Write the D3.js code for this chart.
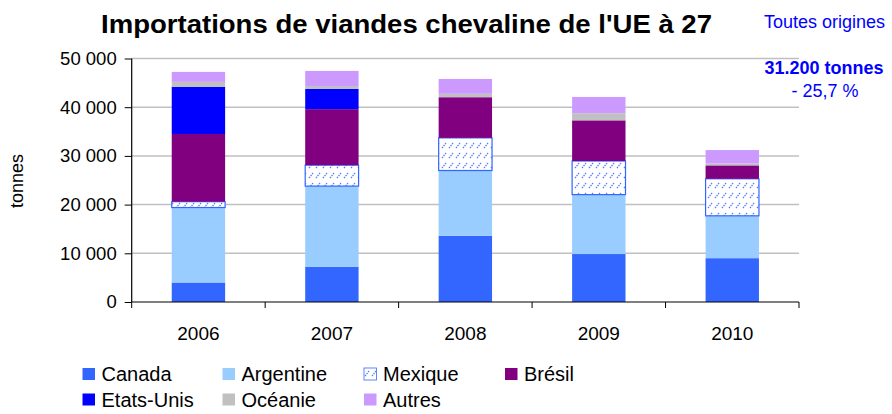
<!DOCTYPE html>
<html>
<head>
<meta charset="utf-8">
<script src="https://cdn.jsdelivr.net/npm/d3@7"></script>
<style>
  body { margin: 0; background: #fff; }
  svg { font-family: "Liberation Sans", Arial, sans-serif; }
  .axis path { display: none; }
</style>
</head>
<body>
<div id="chart"></div>
<script>
var years = ["2006", "2007", "2008", "2009", "2010"];
var series = ["Canada", "Argentine", "Mexique", "Brésil", "Etats-Unis", "Océanie", "Autres"];
var canada    = [4000, 7250, 13600, 9850, 9000];
var argentine = [15400, 16550, 13400, 12200, 8700];
var mexique   = [1200, 4300, 6700, 6900, 7600];
var bresil    = [13900, 11500, 8350, 8350, 2750];
var etatsUnis = [9700, 4150, 0, 0, 0];
var oceanie   = [1000, 600, 700, 1450, 400];
var autres    = [2050, 3100, 3050, 3350, 2750];
var yTicks = [0, 10000, 20000, 30000, 40000, 50000];
var colors = ["#3366ff", "#99ccff", "url(#hatch)", "#800080", "#0000ff", "#c0c0c0", "#cc99ff"];

var width = 892, height = 414;
var margin = {top: 58.5, right: 93, bottom: 112, left: 131.7};

var rows = years.map(function(y, i) {
  return {year: y, "Canada": canada[i], "Argentine": argentine[i], "Mexique": mexique[i],
    "Brésil": bresil[i], "Etats-Unis": etatsUnis[i], "Océanie": oceanie[i], "Autres": autres[i]};
});

var svg = d3.select("#chart").append("svg")
  .attr("width", width).attr("height", height);

var defs = svg.append("defs");
var pat = defs.append("pattern").attr("id", "hatch")
  .attr("patternUnits", "userSpaceOnUse").attr("width", 7).attr("height", 10);
pat.append("rect").attr("width", 7).attr("height", 10).attr("fill", "#fff");
pat.append("path").attr("d", "M1,8 L5,3")
  .attr("stroke", "#5a7dff").attr("stroke-width", 1.3).attr("stroke-dasharray", "1.5,1");

var x = d3.scaleBand().domain(years)
  .range([margin.left, width - margin.right]).paddingInner(0.6).paddingOuter(0.3);
var xb = d3.scaleBand().domain(years).range([margin.left, width - margin.right]);
var y = d3.scaleLinear().domain([0, 50000]).range([height - margin.bottom, margin.top]);

// grid
svg.append("g").selectAll("line").data(yTicks.slice(1)).enter().append("line")
  .attr("x1", margin.left).attr("x2", width - margin.right)
  .attr("y1", function(d) { return y(d); }).attr("y2", function(d) { return y(d); })
  .attr("stroke", "#c0c0c0").attr("stroke-width", 1.5);

var stack = d3.stack().keys(series)(rows);

svg.append("g").selectAll("g").data(stack).enter().append("g")
  .attr("fill", function(d, i) { return colors[i]; })
  .attr("stroke", function(d, i) { return series[i] == "Mexique" ? "#3366ff" : "none"; })
  .attr("stroke-width", 1.2)
  .selectAll("rect").data(function(d) { return d.filter(function(p) { return p[1] - p[0] > 0; }); })
  .enter().append("rect")
  .attr("x", function(d) { return x(d.data.year); })
  .attr("width", x.bandwidth())
  .attr("y", function(d) { return y(d[1]); })
  .attr("height", function(d) { return y(d[0]) - y(d[1]); });

// y axis
var yAxis = svg.append("g").attr("class", "axis")
  .attr("transform", "translate(" + margin.left + ",0)")
  .call(d3.axisLeft(y).tickValues(yTicks).tickSize(7).tickPadding(8)
    .tickFormat(function(d) { return d3.format(",")(d).replace(",", " "); }));
yAxis.selectAll("text").attr("font-size", 18.5).attr("fill", "#000");
yAxis.selectAll(".tick line").attr("stroke", "#000");
svg.append("line").attr("x1", margin.left).attr("x2", margin.left)
  .attr("y1", y(50000)).attr("y2", y(0)).attr("stroke", "#000").attr("stroke-width", 1.2);

// x axis
var xAxis = svg.append("g").attr("class", "axis")
  .attr("transform", "translate(0," + y(0) + ")")
  .call(d3.axisBottom(x).tickSize(0).tickPadding(25));
xAxis.selectAll("text").attr("font-size", 19).attr("fill", "#000");
svg.append("line").attr("x1", margin.left).attr("x2", width - margin.right)
  .attr("y1", y(0)).attr("y2", y(0)).attr("stroke", "#000").attr("stroke-width", 1.2);
svg.append("g").selectAll("line").data(years.concat(["end"])).enter().append("line")
  .attr("x1", function(d, i) { return i < years.length ? xb(d) : width - margin.right; })
  .attr("x2", function(d, i) { return i < years.length ? xb(d) : width - margin.right; })
  .attr("y1", y(0)).attr("y2", y(0) + 6).attr("stroke", "#000");

// axis title
svg.append("text").attr("transform", "translate(23,181) rotate(-90)")
  .attr("text-anchor", "middle").attr("font-size", 18).text("tonnes");

// title
svg.append("text").attr("x", 101).attr("y", 32.5)
  .attr("font-size", 25).attr("font-weight", "bold")
  .attr("textLength", 611).attr("lengthAdjust", "spacingAndGlyphs")
  .text("Importations de viandes chevaline de l'UE à 27");

svg.append("text").attr("x", 824.5).attr("y", 28).attr("text-anchor", "middle")
  .attr("font-size", 18).attr("fill", "#0000ff").text("Toutes origines");
svg.append("text").attr("x", 824).attr("y", 74).attr("text-anchor", "middle")
  .attr("font-size", 18).attr("font-weight", "bold").attr("fill", "#0000ff").text("31.200 tonnes");
svg.append("text").attr("x", 825).attr("y", 96.5).attr("text-anchor", "middle")
  .attr("font-size", 18).attr("fill", "#0000ff").text("- 25,7 %");

// legend
var legX = [82.5, 222.5, 364, 505];
var legend = svg.append("g").selectAll("g").data(series).enter().append("g")
  .attr("transform", function(d, i) {
    return "translate(" + legX[i % 4] + "," + (i < 4 ? 368 : 393.5) + ")";
  });
legend.append("rect").attr("width", 12.5).attr("height", 12)
  .attr("fill", function(d, i) { return colors[i]; })
  .attr("stroke", function(d) { return d == "Mexique" ? "#3366ff" : "none"; })
  .attr("stroke-width", 0.8);
legend.append("text").attr("x", 19).attr("y", 13).attr("font-size", 20)
  .text(function(d) { return d; });
</script>
</body>
</html>
